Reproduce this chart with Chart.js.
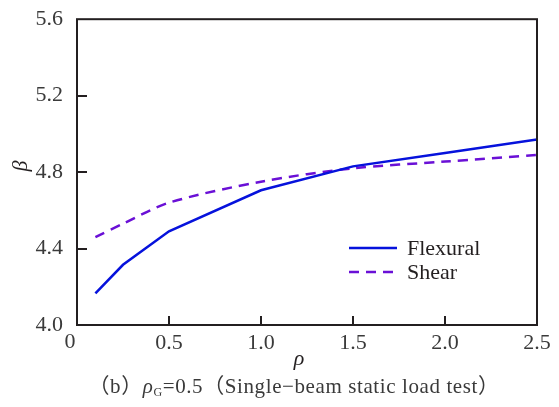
<!DOCTYPE html>
<html><head><meta charset="utf-8">
<script src="https://cdn.jsdelivr.net/npm/chart.js@4"></script>
<style>html,body{margin:0;padding:0;background:#fff;}#wrap{width:559px;height:407px;}</style>
</head><body><div id="wrap"><canvas id="c" width="559" height="407"></canvas></div>
<script>
const rho = [0.1, 0.25, 0.5, 1.0, 1.5, 2.0, 2.5];
const flexural = [4.165, 4.315, 4.49, 4.705, 4.83, 4.90, 4.97];
const shear = [4.46, 4.53, 4.64, 4.75, 4.82, 4.855, 4.89];
const xTicks = [0, 0.5, 1.0, 1.5, 2.0, 2.5];
const yTicks = [4.0, 4.4, 4.8, 5.2, 5.6];
const seriesNames = ['Flexural', 'Shear'];
const xTitle = 'ρ';
const yTitle = 'β';
const captionParts = ['（b）', 'ρ', 'G', '=0.5（Single−beam static load test）'];

const SERIF = '"Liberation Serif", "Times New Roman", serif';
const INK = '#231f20';
const TXT = '#3a3a3a';

const framePlugin = {
  id: 'frame',
  afterDraw(chart) {
    const ctx = chart.ctx, a = chart.chartArea;
    const xs = chart.scales.x, ys = chart.scales.y;
    ctx.save();
    ctx.strokeStyle = INK;
    ctx.lineWidth = 2;
    ctx.strokeRect(a.left, a.top, a.right - a.left, a.bottom - a.top);
    // inward ticks
    ctx.beginPath();
    xTicks.forEach(v => {
      if (v <= xs.min || v >= xs.max) return;
      const px = Math.round(xs.getPixelForValue(v));
      ctx.moveTo(px, a.bottom); ctx.lineTo(px, a.bottom - 9);
    });
    yTicks.forEach(v => {
      if (v <= ys.min || v >= ys.max) return;
      const py = Math.round(ys.getPixelForValue(v));
      ctx.moveTo(a.left, py); ctx.lineTo(a.left + 10, py);
    });
    ctx.stroke();
    // the "0" x tick label sits left of the corner
    ctx.fillStyle = TXT;
    ctx.font = '22px ' + SERIF;
    ctx.textAlign = 'center'; ctx.textBaseline = 'middle';
    ctx.fillText(String(xTicks[0]), xs.getPixelForValue(xTicks[0]) - 7, 342);
    // axis titles
    ctx.fillStyle = INK;
    ctx.font = 'italic 22px ' + SERIF;
    ctx.fillText(xTitle, (a.left + a.right) / 2 - 8, 359);
    ctx.save();
    ctx.translate(21, 166);
    ctx.rotate(-Math.PI / 2);
    ctx.fillText(yTitle, 0, 0);
    ctx.restore();
    // legend
    const ds = chart.data.datasets;
    ctx.font = '22px ' + SERIF;
    ctx.textAlign = 'left';
    ds.forEach((d, i) => {
      const y = 248 + i * 24;
      ctx.save();
      ctx.strokeStyle = d.borderColor;
      ctx.lineWidth = d.borderWidth;
      ctx.setLineDash(d.borderDash || []);
      ctx.beginPath(); ctx.moveTo(349, y); ctx.lineTo(397, y); ctx.stroke();
      ctx.restore();
      ctx.fillStyle = INK;
      ctx.fillText(d.label, 407, y + 1);
    });
    // caption with subscript
    ctx.textBaseline = 'alphabetic';
    ctx.fillStyle = TXT;
    const mainFont = '21px ' + SERIF + ', "Noto Sans CJK SC"';
    const italFont = 'italic 21px ' + SERIF;
    const subFont = '12px ' + SERIF;
    const fonts = [mainFont, italFont, subFont, mainFont];
    try { ctx.letterSpacing = '0.6px'; } catch (e) {}
    let widths = captionParts.map((t, i) => { ctx.font = fonts[i]; return ctx.measureText(t).width; });
    const total = widths.reduce((s, w) => s + w, 0);
    let x = 294 - total / 2;
    const base = 393;
    captionParts.forEach((t, i) => {
      ctx.font = fonts[i];
      ctx.fillText(t, x, i === 2 ? base + 3 : base);
      x += widths[i];
    });
    ctx.restore();
  }
};

new Chart(document.getElementById('c'), {
  type: 'line',
  data: {
    datasets: [
      { label: seriesNames[0], data: rho.map((r, i) => ({x: r, y: flexural[i]})),
        borderColor: '#0612dc', borderWidth: 2.5, pointRadius: 0, tension: 0, fill: false },
      { label: seriesNames[1], data: rho.map((r, i) => ({x: r, y: shear[i]})),
        borderColor: '#6a10d6', borderWidth: 2.5, borderDash: [10, 7], pointRadius: 0, tension: 0.3, fill: false }
    ]
  },
  options: {
    responsive: false,
    animation: false,
    devicePixelRatio: 1,
    layout: { padding: { top: 16, right: 22, left: 0, bottom: 0 } },
    plugins: { legend: { display: false }, tooltip: { enabled: false } },
    scales: {
      x: {
        type: 'linear', min: 0, max: 2.5,
        afterBuildTicks: s => { s.ticks = xTicks.map(v => ({value: v})); },
        afterFit: s => { s.height = 82; },
        grid: { display: false }, border: { display: false },
        ticks: { color: TXT, font: { family: SERIF, size: 22 }, padding: -3,
          maxRotation: 0, autoSkip: false,
          callback: v => v === 0 ? '' : v.toFixed(1) }
      },
      y: {
        min: 4.0, max: 5.6,
        afterBuildTicks: s => { s.ticks = yTicks.map(v => ({value: v})); },
        afterFit: s => { s.width = 77; },
        grid: { display: false }, border: { display: false },
        ticks: { color: TXT, font: { family: SERIF, size: 22 }, padding: 6,
          callback: v => v.toFixed(1) }
      }
    }
  },
  plugins: [framePlugin]
});
</script></body></html>
